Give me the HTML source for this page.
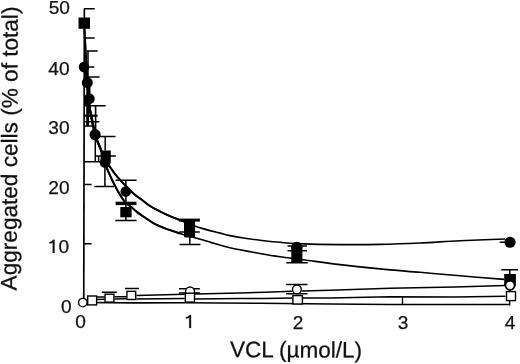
<!DOCTYPE html>
<html><head><meta charset="utf-8">
<style>
html,body{margin:0;padding:0;background:#fff;}
body{width:520px;height:364px;overflow:hidden;font-family:"Liberation Sans",sans-serif;}
svg{display:block;will-change:transform;}
text{font-family:"Liberation Sans",sans-serif;fill:#111;stroke:#111;stroke-width:0.25px;}
</style></head><body>
<svg width="520" height="364" viewBox="0 0 520 364">
<rect width="520" height="364" fill="#fff"/>
<!-- axis labels -->
<g font-size="19.1">
<text x="69.9" y="14.4" text-anchor="end">50</text>
<text x="69.6" y="74.5" text-anchor="end">40</text>
<text x="69.6" y="134" text-anchor="end">30</text>
<text x="69.6" y="194.2" text-anchor="end">20</text>
<text x="69.2" y="253.2" text-anchor="end">0</text>
<text x="71.5" y="312.9" text-anchor="end">0</text>
<text x="80.5" y="327.6" text-anchor="middle">0</text>
<text x="298.1" y="328.5" text-anchor="middle">2</text>
<text x="403" y="329.2" text-anchor="middle">3</text>
<text x="510" y="329.4" text-anchor="middle">4</text>
</g>
<text transform="translate(296,357.4) rotate(0.27)" font-size="22.5" text-anchor="middle">VCL (µmol/L)</text>
<text transform="translate(17.2,148.5) rotate(-89.74)" font-size="22.6" text-anchor="middle">Aggregated cells (% of total)</text>
<g fill="#111" stroke="#111" stroke-width="0.25"><path transform="translate(191.05,328.1) scale(0.965)" d="M-5.3 -11.3C-3.6 -11.5 -2.3 -12.4 -1.55 -13.7L0 -13.7L0 0L-1.9 0L-1.9 -10.6C-2.8 -10.2 -4 -9.9 -5.3 -9.8Z"/><path transform="translate(54.55,253) scale(0.965)" d="M-5.3 -11.3C-3.6 -11.5 -2.3 -12.4 -1.55 -13.7L0 -13.7L0 0L-1.9 0L-1.9 -10.6C-2.8 -10.2 -4 -9.9 -5.3 -9.8Z"/></g>
<!-- axes -->
<g stroke="#000" stroke-width="1.7" fill="none" stroke-linecap="butt">
<path d="M84.35 8.7L83.75 302.5"/>
<path d="M84.3 302.5L135 302.9L185 302.8L260 303.3L330 304L390 304.45L510 304.5" stroke-width="1.6" stroke-linejoin="round"/>
<path d="M84 8.7H94.7M84 67H94.4M84 126.1H93M84 184.4H91.6M84 243.8H91.6" stroke-width="1.5"/>
<path d="M190.5 295V303M297 296V304M402.5 296.2V304.3M509.7 300V305.4" stroke-width="1.3"/>
</g>
<!-- curves -->
<g stroke="#000" stroke-width="1.65" fill="none" stroke-linejoin="round">
<path d="M84.00 67.00 C84.30 68.33 85.25 72.42 85.80 75.00 C86.35 77.58 86.90 80.00 87.30 82.50 C87.70 85.00 87.93 87.29 88.20 90.00 C88.47 92.71 88.52 94.92 88.90 98.75 C89.28 102.58 89.90 108.79 90.50 113.00 C91.10 117.21 91.75 120.38 92.50 124.00 C93.25 127.62 94.08 131.58 95.00 134.75 C95.92 137.92 96.92 140.29 98.00 143.00 C99.08 145.71 100.17 148.08 101.50 151.00 C102.83 153.92 104.52 157.75 106.00 160.50 C107.48 163.25 108.90 165.25 110.40 167.50 C111.90 169.75 113.33 171.87 115.00 174.00 C116.67 176.13 118.52 178.22 120.40 180.30 C122.28 182.38 124.45 184.58 126.30 186.50 C128.15 188.42 129.88 190.28 131.50 191.80 C133.12 193.32 134.42 194.37 136.00 195.60 C137.58 196.83 138.67 197.47 141.00 199.20 C143.33 200.93 146.83 203.97 150.00 206.00 C153.17 208.03 156.67 209.70 160.00 211.40 C163.33 213.10 166.88 214.83 170.00 216.20 C173.12 217.57 175.42 218.22 178.75 219.60 C182.08 220.98 187.28 223.38 190.00 224.50 C192.72 225.62 193.10 225.65 195.10 226.30 C197.10 226.95 199.52 227.68 202.00 228.40 C204.48 229.12 207.00 229.82 210.00 230.60 C213.00 231.38 216.67 232.27 220.00 233.10 C223.33 233.93 225.83 234.75 230.00 235.60 C234.17 236.45 240.00 237.43 245.00 238.20 C250.00 238.97 254.17 239.52 260.00 240.20 C265.83 240.88 273.83 241.73 280.00 242.30 C286.17 242.87 287.00 243.22 297.00 243.60 C307.00 243.98 326.17 244.47 340.00 244.60 C353.83 244.73 366.67 244.67 380.00 244.40 C393.33 244.13 406.67 243.62 420.00 243.00 C433.33 242.38 445.83 241.37 460.00 240.70 C474.17 240.03 497.50 239.28 505.00 239.00"/>
<path d="M84.50 29.00 C84.63 31.67 85.00 39.50 85.30 45.00 C85.60 50.50 85.98 56.17 86.30 62.00 C86.62 67.83 86.87 74.50 87.20 80.00 C87.53 85.50 87.87 90.33 88.30 95.00 C88.73 99.67 89.22 104.17 89.80 108.00 C90.38 111.83 91.10 114.67 91.80 118.00 C92.50 121.33 93.13 124.33 94.00 128.00 C94.87 131.67 95.83 136.33 97.00 140.00 C98.17 143.67 99.67 146.17 101.00 150.00 C102.33 153.83 104.03 160.00 105.00 163.00 C105.97 166.00 105.88 165.75 106.80 168.00 C107.72 170.25 109.20 173.67 110.50 176.50 C111.80 179.33 113.10 182.08 114.60 185.00 C116.10 187.92 117.72 191.12 119.50 194.00 C121.28 196.88 123.28 200.08 125.30 202.30 C127.32 204.52 129.65 205.68 131.60 207.30 C133.55 208.92 135.03 210.47 137.00 212.00 C138.97 213.53 140.67 214.65 143.40 216.50 C146.13 218.35 150.63 221.47 153.40 223.10 C156.17 224.73 157.23 225.13 160.00 226.30 C162.77 227.47 166.67 228.90 170.00 230.10 C173.33 231.30 176.67 232.45 180.00 233.50 C183.33 234.55 187.50 235.68 190.00 236.40 C192.50 237.12 191.67 236.85 195.00 237.80 C198.33 238.75 204.17 240.43 210.00 242.10 C215.83 243.77 221.67 245.90 230.00 247.80 C238.33 249.70 251.67 252.00 260.00 253.50 C268.33 255.00 272.83 255.77 280.00 256.80 C287.17 257.83 293.00 258.40 303.00 259.70 C313.00 261.00 327.17 263.07 340.00 264.60 C352.83 266.13 366.67 267.62 380.00 268.90 C393.33 270.18 406.67 271.15 420.00 272.30 C433.33 273.45 446.00 274.62 460.00 275.80 C474.00 276.98 496.67 278.80 504.00 279.40"/>
<path d="M84.00 67.00 C84.30 68.33 85.25 72.42 85.80 75.00 C86.35 77.58 86.90 80.00 87.30 82.50 C87.70 85.00 87.93 87.29 88.20 90.00 C88.47 92.71 88.52 94.92 88.90 98.75 C89.28 102.58 89.90 108.79 90.50 113.00 C91.10 117.21 91.75 120.38 92.50 124.00 C93.25 127.62 94.08 131.58 95.00 134.75 C95.92 137.92 96.92 140.29 98.00 143.00 C99.08 145.71 100.17 148.08 101.50 151.00 C102.83 153.92 104.52 157.75 106.00 160.50 C107.48 163.25 108.90 165.25 110.40 167.50 C111.90 169.75 113.33 171.87 115.00 174.00 C116.67 176.13 118.52 178.22 120.40 180.30 C122.28 182.38 124.45 184.58 126.30 186.50 C128.15 188.42 129.88 190.28 131.50 191.80 C133.12 193.32 134.42 194.37 136.00 195.60 C137.58 196.83 138.67 197.47 141.00 199.20 C143.33 200.93 146.83 203.97 150.00 206.00 C153.17 208.03 156.67 209.70 160.00 211.40 C163.33 213.10 166.88 214.83 170.00 216.20 C173.12 217.57 177.29 219.03 178.75 219.60" stroke-width="2"/>
<path d="M84.50 29.00 C84.63 31.67 85.00 39.50 85.30 45.00 C85.60 50.50 85.98 56.17 86.30 62.00 C86.62 67.83 86.87 74.50 87.20 80.00 C87.53 85.50 87.87 90.33 88.30 95.00 C88.73 99.67 89.22 104.17 89.80 108.00 C90.38 111.83 91.10 114.67 91.80 118.00 C92.50 121.33 93.13 124.33 94.00 128.00 C94.87 131.67 95.83 136.33 97.00 140.00 C98.17 143.67 99.67 146.17 101.00 150.00 C102.33 153.83 104.03 160.00 105.00 163.00 C105.97 166.00 105.88 165.75 106.80 168.00 C107.72 170.25 109.20 173.67 110.50 176.50 C111.80 179.33 113.10 182.08 114.60 185.00 C116.10 187.92 117.72 191.12 119.50 194.00 C121.28 196.88 123.28 200.08 125.30 202.30 C127.32 204.52 129.65 205.68 131.60 207.30 C133.55 208.92 135.03 210.47 137.00 212.00 C138.97 213.53 140.67 214.65 143.40 216.50 C146.13 218.35 150.63 221.47 153.40 223.10 C156.17 224.73 157.23 225.13 160.00 226.30 C162.77 227.47 166.67 228.90 170.00 230.10 C173.33 231.30 178.33 232.93 180.00 233.50" stroke-width="2"/>
<path d="M96.8 139.5L101.4 150.8" stroke-width="2.2"/>
<!-- open-symbol lines -->
<path d="M96.6 297L104.7 297M114.4 296.8L126.2 296.7M136.4 295.5L184.6 294.3M195 294L240 293.1L265 292.2L292 291.3M302 291L330 290.2L390 288.3L455 286.9L505 285.4" stroke-width="1.5"/>
<path d="M96.6 299.4L104.7 299.3M114.4 298.9L126.2 298.7M136.4 299.1L184.6 298.5M195 299L240 298.6L265 298.5L292.2 298.1M303 298L330 297.9L390 296.7L455 297.1L505.4 296.3" stroke-width="1.5"/>
</g>
<!-- error bars -->
<g stroke="#000" stroke-width="1.5" fill="none">
<path d="M84 37.9H94.7M87 51H97.7M84 76.9H99.6M88 51V106M84 105.8H105.7M84 121.8H99.4"/>
<path d="M87.6 100V126" stroke-width="2.8"/><path d="M88.4 86V96" stroke-width="4.2"/><path d="M85.8 100V106" stroke-width="2"/>
<path d="M95.6 106V131" stroke-width="1.6"/>
<path d="M84 115.7H97.5" stroke-width="2.3"/>
<path d="M95 136.6H115.5M105.2 136.6V150.6M95.3 140V161.8M95.3 156H115.8M84 161.8H100M98.6 156V162M104.9 164V186.4M94.3 186.4H114"/>
<!-- 0.4 -->
<path d="M115.5 180.3H136.6M125.9 180.3V220.4M115.3 220.5H136.6"/>
<path d="M115.6 203.4H136.5" stroke-width="3.4"/>
<!-- x=1 -->
<path d="M178.8 220.1H199.9" stroke-width="3"/>
<path d="M189.8 220V244.5M179.5 244.5H200.5M179.2 232H199.9"/>
<!-- x=2 -->
<path d="M287.5 246.1H307M287.5 250.7H307M286.3 262.8H307.7" />
<path d="M286.2 284.4H307.5M286.2 293.8H307.5M296.9 284V294"/>
<!-- x=4 -->
<path d="M501.2 269.8H518M509.8 269.8V275M499.7 242.3H506"/>
<!-- bottom -->
<path d="M101.9 292.2H116.9M125 288.5H139M179 288.8H199.8M179 293H200" />
</g>
<!-- markers -->
<g fill="#000" stroke="none">
<rect x="78.5" y="17.5" width="11.5" height="11.3"/>
<rect x="100.6" y="150.5" width="10.2" height="12"/>
<rect x="120.3" y="207" width="11.3" height="10.3"/>
<rect x="184" y="220" width="11.1" height="17.4" rx="1.5"/>
<rect x="291.3" y="245" width="11.1" height="18" rx="1"/>
<rect x="504.2" y="274" width="11.7" height="12"/><circle cx="510" cy="285.3" r="5.4"/>
<circle cx="83.9" cy="67" r="5.2"/>
<circle cx="87.3" cy="82.7" r="5.5"/>
<circle cx="89.4" cy="98.7" r="5.4"/>
<circle cx="95.1" cy="134.7" r="5.6"/>
<circle cx="105.1" cy="162.4" r="5.4"/>
<circle cx="125.8" cy="191.5" r="5.3"/>
<circle cx="296.8" cy="247.2" r="5.5"/>
<circle cx="510" cy="242.25" r="5.6"/>
</g>
<g fill="#fff" stroke="#000" stroke-width="1.4">
<circle cx="190" cy="291.5" r="4.5"/>
<circle cx="296.9" cy="289.4" r="4.4"/>
<circle cx="510" cy="285.3" r="4.5" stroke-width="1.7"/>
<rect x="87.7" y="296" width="8.9" height="8.9"/>
<rect x="105" y="294.2" width="8.9" height="7.9"/>
<rect x="126.9" y="291.35" width="8.8" height="8.15"/>
<rect x="185.3" y="293.2" width="9.2" height="8.9"/>
<rect x="292.9" y="295.6" width="9.5" height="8.4"/>
<rect x="506.5" y="291.6" width="9" height="9"/>
<circle cx="82.8" cy="302.6" r="4.25"/>
</g>
</svg>
</body></html>
